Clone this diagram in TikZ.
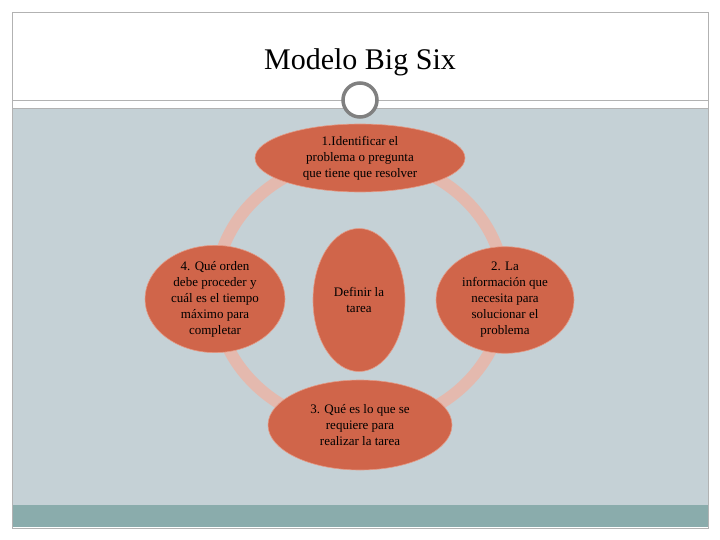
\documentclass[tikz,border=0pt]{standalone}
\usepackage{fontspec}
\setmainfont{Liberation Serif}
\usetikzlibrary{shapes.geometric}
\definecolor{bg}{HTML}{C5D1D6}
\definecolor{bar}{HTML}{8AACAC}
\definecolor{ringc}{HTML}{E4B9AE}
\definecolor{nodef}{HTML}{D0654A}
\definecolor{nodeb}{HTML}{E49A86}
\tikzset{
 item/.style={ellipse,fill=nodef,draw=nodeb,line width=0.6pt,text=black,align=center,font=\fontsize{13}{16}\selectfont,inner sep=0pt}
}
\begin{document}
\begin{tikzpicture}[x=1pt,y=-1pt]
\useasboundingbox (0,0) rectangle (720,540);
\fill[white] (0,0) rectangle (720,540);
\fill[bg] (12,108) rectangle (708,505);
\fill[bar] (12,505) rectangle (708,527);
\draw[gray!60] (12,12) rectangle (708,528);
\draw[gray!60] (12,100) -- (708,100);
\draw[gray!60] (12,108) -- (708,108);
\node (title) at (360,62) {\fontsize{30}{34}\selectfont Modelo Big Six};
\draw[ringc,line width=12pt] (360,292) ellipse [x radius=145,y radius=134];
\node[circle,draw=gray,line width=3.5pt,fill=white,minimum size=34pt,inner sep=0pt] (knob) at (360,100) {};
\node[item,minimum width=210pt,minimum height=68pt] (n1) at (360,158) {1.Identificar el\\problema o pregunta\\que tiene que resolver};
\node[item,minimum width=140pt,minimum height=84pt] (n4) at (215,299) {4. Qué orden\\debe proceder y\\cuál es el tiempo\\máximo para\\completar};
\node[item,minimum width=138pt,minimum height=92pt] (n2) at (505,300) {2. La\\información que\\necesita para\\solucionar el\\problema};
\node[item,minimum width=92pt,minimum height=143pt] (c) at (359,300) {Definir la\\tarea};
\node[item,minimum width=184pt,minimum height=90pt] (n3) at (360,425) {3. Qué es lo que se\\requiere para\\realizar la tarea};
\end{tikzpicture}
\end{document}
